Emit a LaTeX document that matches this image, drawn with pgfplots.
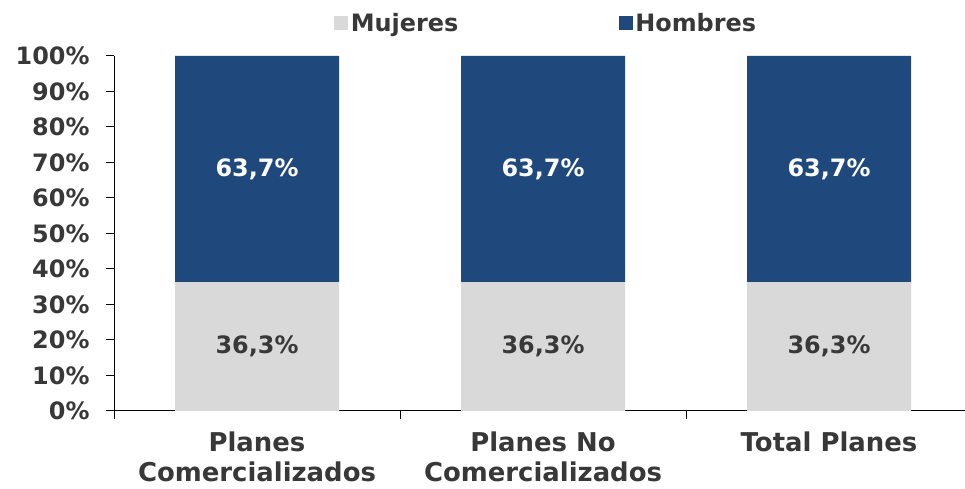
\documentclass[border=0pt]{standalone}
\usepackage{fontspec}
\setmainfont{DejaVu Sans}
\usepackage{pgfplots}
\pgfplotsset{compat=1.18}
\definecolor{hombres}{RGB}{31,73,125}
\definecolor{mujeres}{RGB}{217,217,217}
\definecolor{txt}{RGB}{56,56,56}

\begin{document}
\begin{tikzpicture}[x=1bp,y=1bp]
\begin{axis}[
  at={(114bp,78bp)}, anchor=south west,
  scale only axis, width=858bp, height=355bp,
  ybar stacked, bar width=164bp,
  xmin=-0.5, xmax=2.5, ymin=0, ymax=100,
  axis x line*=bottom, axis y line*=left,
  axis line style={line width=1bp, black},
  xtick={-0.5,0.5,1.5,2.5}, x tick label as interval,
  xticklabels={{Planes\\Comercializados},{Planes No\\Comercializados},{Total Planes}},
  x tick label style={align=center, font=\bfseries\fontsize{26}{30}\selectfont, text=txt,
    inner sep=0bp, yshift=-13bp},
  ytick={0,10,...,100},
  yticklabel={\pgfmathprintnumber{\tick}\%},
  /pgf/number format/assume math mode=true,
  y tick label style={font=\bfseries\fontsize{24}{28}\selectfont, text=txt, xshift=-13bp},
  tick align=outside, major tick length=8bp,
  tick style={line width=1bp, black},
  legend columns=2,
  legend style={draw=none, fill=none, at={(0.504,1.093)}, anchor=center,
    font=\bfseries\fontsize{24}{28}\selectfont, text=txt,
    nodes={inner sep=2.5bp},
    /tikz/every even column/.append style={column sep=158bp}},
  legend image code/.code={\fill[#1] (0bp,-7bp) rectangle (14bp,7bp);},
  nodes near coords={\pgfmathprintnumber[use comma,fixed,fixed zerofill,precision=1]{\pgfplotspointmeta}\%},
  point meta=explicit,
  every node near coord/.append style={font=\bfseries\fontsize{24}{28}\selectfont, anchor=center},
]
\addplot[fill=mujeres, draw=none,
  every node near coord/.append style={text=txt}]
  coordinates {(0,36.3)[36.3] (1,36.3)[36.3] (2,36.3)[36.3]};
\addplot[fill=hombres, draw=none,
  every node near coord/.append style={text=white}]
  coordinates {(0,63.7)[63.7] (1,63.7)[63.7] (2,63.7)[63.7]};
\legend{Mujeres,Hombres}
\end{axis}
\pgfresetboundingbox
\useasboundingbox (0,0) rectangle (965,489);
\end{tikzpicture}
\end{document}
